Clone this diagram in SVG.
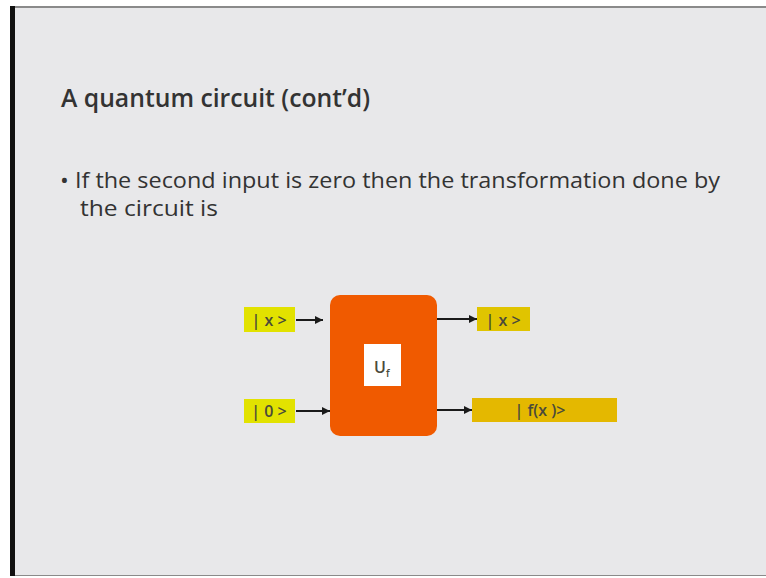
<svg xmlns="http://www.w3.org/2000/svg" width="766" height="578" viewBox="0 0 766 578">
<defs>
<marker id="ah" viewBox="0 0 10 10" refX="10" refY="5" markerWidth="10" markerHeight="8" markerUnits="userSpaceOnUse" orient="auto"><path d="M0,0 L10,5 L0,10 z" fill="#1a1a1a"/></marker>
<style>
.t{font-family:"Open Sans","Liberation Sans",sans-serif;fill:#333;}
.lbl{font-family:"Open Sans","Liberation Sans",sans-serif;font-size:16px;font-weight:600;fill:#4a4a3a;}
.wire{stroke:#1a1a1a;stroke-width:2;fill:none;marker-end:url(#ah);}
</style>
</defs>
<rect x="0" y="0" width="766" height="578" fill="#ffffff"/>
<rect x="10" y="6" width="756" height="570" fill="#8a8a8a"/>
<rect x="15" y="8" width="751" height="567" fill="#e8e8ea"/>
<rect x="10" y="6" width="5" height="570" fill="#111"/>
<text class="t" x="61" y="107" font-size="25" font-weight="600" textLength="309" lengthAdjust="spacingAndGlyphs">A quantum circuit (cont’d)</text>
<text class="t" x="60" y="188" font-size="21" textLength="660" lengthAdjust="spacingAndGlyphs">•  If the second input is zero then the transformation done by</text>
<text class="t" x="80" y="216" font-size="21" textLength="138" lengthAdjust="spacingAndGlyphs">the circuit is</text>
<g id="connectors">
<line class="wire" x1="296" y1="320" x2="323" y2="320"/>
<line class="wire" x1="296" y1="411" x2="330" y2="411"/>
<line class="wire" x1="437" y1="319" x2="477" y2="319"/>
<line class="wire" x1="437" y1="410" x2="472" y2="410"/>
</g>
<g id="in-x">
<rect x="244" y="307" width="51" height="25" fill="#e2e200"/>
<text class="lbl" x="269" y="326" text-anchor="middle">| x &gt;</text>
</g>
<g id="in-0">
<rect x="244" y="399" width="51" height="24" fill="#e2e200"/>
<text class="lbl" x="269" y="417" text-anchor="middle">| 0 &gt;</text>
</g>
<g id="uf">
<rect x="330" y="295" width="107" height="141" rx="10" fill="#f05a00"/>
<rect x="364" y="344" width="37" height="42" fill="#ffffff"/>
<text class="lbl" x="374" y="373" font-size="18" font-weight="400" fill="#3a4a5a">U<tspan font-size="10" dy="4">f</tspan></text>
</g>
<g id="out-x">
<rect x="477" y="307" width="53" height="24" fill="#e0c400"/>
<text class="lbl" x="503" y="326" text-anchor="middle">| x &gt;</text>
</g>
<g id="out-fx">
<rect x="472" y="398" width="145" height="24" fill="#e4b800"/>
<text class="lbl" x="540" y="416" text-anchor="middle">| f(x )&gt;</text>
</g>
</svg>
